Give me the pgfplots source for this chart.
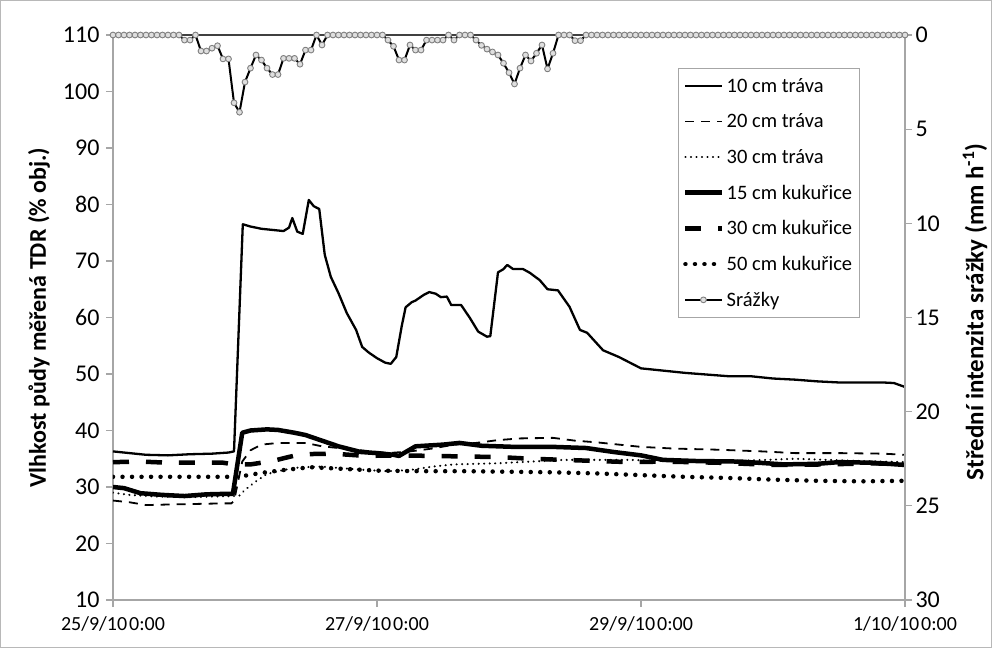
\documentclass[border=0pt]{standalone}
\usepackage{fontspec}
\setmainfont{Carlito}
\usepackage{pgfplots}
\pgfplotsset{compat=1.18}
\definecolor{axgray}{HTML}{A6A6A6}
\definecolor{mkgray}{HTML}{7F7F7F}
\pgfplotsset{
  sA/.style={black, line width=2.3pt, line join=round},
  sB/.style={black, line width=1.8pt, dash pattern=on 9pt off 7pt},
  sC/.style={black, line width=2.3pt, dash pattern=on 0.01pt off 5.5pt, line cap=round},
  kA/.style={black, line width=4.5pt, line join=round},
  kB/.style={black, line width=4.5pt, dash pattern=on 16pt off 17pt, line join=round},
  kC/.style={black, line width=4.5pt, dash pattern=on 0.01pt off 9.5pt, line cap=round},
  rain/.style={black, line width=2pt, line join=round, mark=*, mark size=2.9pt,
    mark options={draw=mkgray, fill=gray!25, line width=0.9pt, solid}},
  leglen/.style={legend image code/.code={\draw[mark repeat=2,mark phase=2,##1] plot coordinates {(0pt,0pt) (18pt,0pt) (37pt,0pt)};}},
}
\begin{document}
\begin{tikzpicture}[x=1pt,y=1pt]
\useasboundingbox (-113,-48) rectangle (879,600);
\draw[axgray!80, line width=1pt] (-112.5,-47.5) rectangle (878.5,599.5);
\begin{axis}[
  at={(0,0)}, anchor=south west,
  scale only axis, width=792pt, height=565pt,
  xmin=0, xmax=144, ymin=10, ymax=110,
  axis x line*=bottom, axis y line*=left,
  axis line style={axgray, line width=1.2pt, -},
  tick style={axgray, line width=1.2pt},
  tick align=outside, major tick length=7pt,
  xtick={0,48,96,144},
  xticklabels={25/9/10\hspace{2pt}0:00, 27/9/10\hspace{2pt}0:00, 29/9/10\hspace{2pt}0:00, 1/10/10\hspace{2pt}0:00},
  xticklabel style={font=\fontsize{20}{24}\selectfont, yshift=-6pt},
  ytick={10,20,...,110},
  yticklabel style={font=\fontsize{24}{28}\selectfont, xshift=-3pt, /pgf/number format/assume math mode=true},
  ylabel={Vlhkost půdy měřená TDR (\% obj.)},
  ylabel style={font=\fontsize{24}{28}\selectfont\bfseries, at={(axis description cs:-0.0935,0.5)}, anchor=center},
]
\draw[black!75, line width=1.4pt] (rel axis cs:0,1) -- (rel axis cs:1,1);
% 10 cm trava
\addplot[sA] coordinates {(0,36.3) (3,36.0) (6,35.7) (10,35.6) (14,35.8) (18,35.9) (21,36.1) (22,36.3) (23.6,76.5) (25,76.1) (27,75.7) (29,75.5) (31,75.3) (32,75.9) (32.6,77.6) (33.5,75.2) (34.5,74.8) (35.6,80.8) (36.5,79.7) (37.5,79.2) (38.5,71.1) (39.6,67.2) (41,64.3) (42.5,60.8) (44.2,57.8) (45.3,54.8) (46.5,53.8) (48,52.8) (49.5,52.0) (50.5,51.8) (51.5,53.0) (52.5,58.5) (53.2,61.8) (54.3,62.7) (55,63.0) (56.5,64.0) (57.5,64.5) (58.7,64.2) (59.6,63.6) (60.7,63.7) (61.5,62.2) (63.3,62.2) (64.9,59.9) (66.4,57.5) (68,56.6) (68.6,56.7) (70,68.0) (70.9,68.5) (71.7,69.3) (72.7,68.6) (74.5,68.6) (75.8,67.9) (77.6,66.6) (79,65.0) (80.9,64.8) (83,61.9) (84.9,57.8) (86.2,57.3) (89.1,54.2) (92,53.0) (96,51.0) (100,50.6) (104,50.2) (108,49.9) (112,49.6) (116,49.6) (120,49.2) (124,49.0) (128,48.7) (132,48.5) (136,48.5) (140,48.5) (142,48.4) (144,47.7)};
% 20 cm trava
\addplot[sB] coordinates {(0,27.6) (3,27.3) (6,26.8) (10,26.9) (15,27.0) (20,27.1) (21.5,27.1) (22,27.5) (23.5,34.5) (25,36.5) (27,37.5) (30,37.8) (35,37.8) (38,37.2) (42,36.8) (46,36.4) (50,36.0) (54,36.3) (58,36.8) (62,37.5) (66,37.8) (70,38.3) (74,38.6) (80,38.7) (84,38.2) (88,37.9) (92,37.5) (96,37.1) (102,36.8) (110,36.6) (118,36.3) (124,36.0) (132,36.0) (140,35.9) (144,35.7)};
% 30 cm trava
\addplot[sC] coordinates {(0,29.0) (3,28.6) (8,28.3) (14,28.2) (21.8,28.4) (23,28.5) (24,29.5) (26,31.0) (28,32.3) (31,33.0) (34,33.5) (38,33.6) (42,33.3) (46,33.0) (50,32.8) (54,33.0) (58,33.6) (62,34.0) (66,34.1) (70,34.2) (76,34.5) (82,34.8) (88,34.8) (94,34.8) (100,34.6) (108,34.5) (116,34.7) (124,35.0) (130,34.8) (136,34.6) (144,34.4)};
% 15 cm kukurice
\addplot[kA] coordinates {(0,30.0) (2,29.8) (5,28.9) (9,28.6) (13,28.4) (17,28.7) (21,28.8) (21.8,28.8) (23.5,39.6) (25,40.0) (28,40.2) (30,40.1) (33,39.6) (35,39.2) (38,38.2) (41,37.2) (45,36.2) (48,36.0) (51,35.7) (52,35.5) (55,37.2) (60,37.5) (63,37.8) (67,37.3) (73,37.1) (80,37.1) (86,36.9) (91,36.2) (96,35.6) (100,34.8) (106,34.6) (114,34.5) (122,34.0) (128,34.1) (132,34.4) (138,34.3) (144,33.9)};
% 30 cm kukurice
\addplot[kB] coordinates {(0,34.4) (5,34.5) (10,34.3) (15,34.3) (20,34.3) (22,34.0) (25,34.0) (29,34.6) (34,35.8) (40,35.9) (46,35.5) (52,35.6) (58,35.5) (64,35.4) (70,35.3) (76,35.0) (82,34.8) (88,34.6) (94,34.4) (100,34.5) (110,34.3) (120,33.9) (130,34.0) (138,34.2) (144,34.0)};
% 50 cm kukurice
\addplot[kC] coordinates {(0,31.8) (10,31.8) (21.8,31.8) (24,32.0) (27,32.5) (31,33.0) (36,33.5) (42,33.2) (48,32.9) (56,32.8) (64,32.8) (72,32.7) (80,32.6) (88,32.4) (96,32.1) (104,31.8) (112,31.6) (120,31.3) (128,31.1) (136,31.0) (144,31.1)};
\end{axis}
\begin{axis}[
  at={(0,0)}, anchor=south west,
  scale only axis, width=792pt, height=565pt,
  xmin=0, xmax=144, ymin=0, ymax=30, y dir=reverse,
  axis x line=none, axis y line*=right,
  axis line style={axgray, line width=1.2pt, -},
  tick style={axgray, line width=1.2pt},
  tick align=outside, major tick length=7pt,
  ytick={0,5,...,30},
  yticklabel style={font=\fontsize{24}{28}\selectfont, /pgf/number format/assume math mode=true},
  ylabel={Střední intenzita srážky (mm h\textsuperscript{-1})},
  ylabel style={font=\fontsize{25}{28}\selectfont\bfseries, at={(axis description cs:1.0884,0.51)}, anchor=center},
  clip=false,
  leglen,
  legend cell align=left,
  legend style={at={(axis description cs:0.713,0.942)}, anchor=north west,
    draw=axgray, line width=1pt, fill=white, font=\fontsize{20.5}{22}\selectfont,
    row sep=16pt, inner xsep=5pt, inner ysep=8pt},
]
\addlegendimage{sA}\addlegendentry{10 cm tráva}
\addlegendimage{sB}\addlegendentry{20 cm tráva}
\addlegendimage{sC}\addlegendentry{30 cm tráva}
\addlegendimage{kA}\addlegendentry{15 cm kukuřice}
\addlegendimage{kB}\addlegendentry{30 cm kukuřice}
\addlegendimage{kC}\addlegendentry{50 cm kukuřice}
\addplot[rain] coordinates {(0,0) (1,0) (2,0) (3,0) (4,0) (5,0) (6,0) (7,0) (8,0) (9,0) (10,0) (11,0) (12,0) (13,0.27) (14,0.27) (15,0) (16,0.85) (17,0.85) (18,0.7) (19,0.57) (20,1.27) (21,1.27) (22,3.6) (23,4.1) (24,2.5) (25,1.76) (26,1.06) (27,1.33) (28,1.76) (29,2.1) (30,2.1) (31,1.24) (32,1.24) (33,1.24) (34,1.55) (35,0.8) (36,0.8) (37,0) (38,0.53) (39,0) (40,0) (41,0) (42,0) (43,0) (44,0) (45,0) (46,0) (47,0) (48,0) (49,0) (50,0.27) (51,0.6) (52,1.33) (53,1.33) (54,0.53) (55,0.8) (56,0.8) (57,0.27) (58,0.27) (59,0.27) (60,0.27) (61,0) (62,0.27) (63,0) (64,0) (65,0) (66,0.27) (67,0.55) (68,0.75) (69,0.9) (70,1.06) (71,1.5) (72,2.0) (73,2.6) (74,1.76) (75,1.06) (76,1.38) (77,0.97) (78,0.53) (79,1.8) (80,0.97) (81,0) (82,0) (83,0) (84,0.3) (85,0.3) (86,0) (87,0) (88,0) (89,0) (90,0) (91,0) (92,0) (93,0) (94,0) (95,0) (96,0) (97,0) (98,0) (99,0) (100,0) (101,0) (102,0) (103,0) (104,0) (105,0) (106,0) (107,0) (108,0) (109,0) (110,0) (111,0) (112,0) (113,0) (114,0) (115,0) (116,0) (117,0) (118,0) (119,0) (120,0) (121,0) (122,0) (123,0) (124,0) (125,0) (126,0) (127,0) (128,0) (129,0) (130,0) (131,0) (132,0) (133,0) (134,0) (135,0) (136,0) (137,0) (138,0) (139,0) (140,0) (141,0) (142,0) (143,0) (144,0)};
\addlegendentry{Srážky}
\end{axis}
\end{tikzpicture}
\end{document}
